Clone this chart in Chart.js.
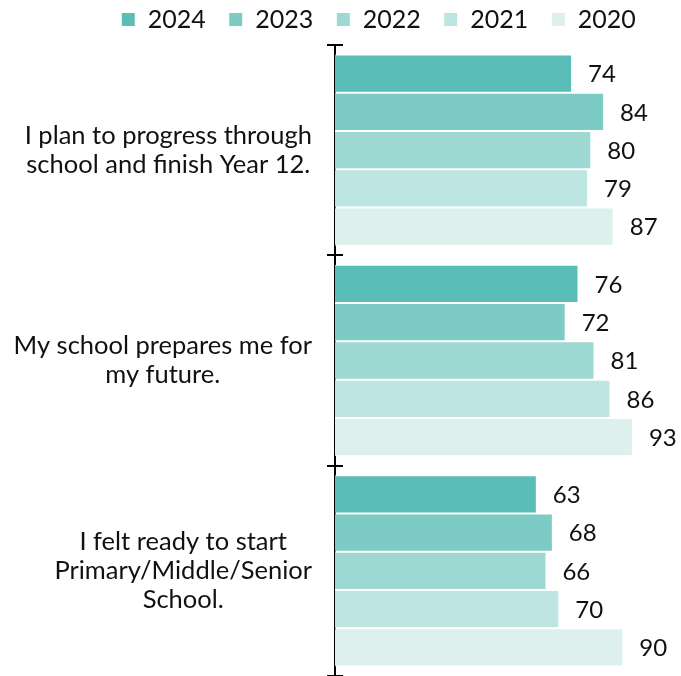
<!DOCTYPE html>
<html>
<head>
<meta charset="utf-8">
<script src="https://cdn.jsdelivr.net/npm/chart.js@4/dist/chart.umd.min.js"></script>
<style>
  html, body { margin: 0; padding: 0; background: #ffffff; }
  #wrap { width: 681px; height: 676px; position: relative; }
</style>
</head>
<body>
<div id="wrap"><canvas id="c"></canvas></div>
<script>
const categories = [
  ["I plan to progress through", "school and finish Year 12."],
  ["My school prepares me for", "my future."],
  ["I felt ready to start", "Primary/Middle/Senior", "School."]
];
const seriesNames = ["2024", "2023", "2022", "2021", "2020"];
const values2024 = [74, 76, 63];
const values2023 = [84, 72, 68];
const values2022 = [80, 81, 66];
const values2021 = [79, 86, 70];
const values2020 = [87, 93, 90];
const seriesColors = ["#5bbdb7", "#7ccbc5", "#9dd8d3", "#bde5e1", "#ddf0ee"];

const allValues = [values2024, values2023, values2022, values2021, values2020];
const FONT = "Lato";

const datasets = seriesNames.map((name, i) => ({
  label: name,
  data: allValues[i],
  backgroundColor: seriesColors[i],
  borderColor: "#ffffff",
  borderWidth: 1,
  borderSkipped: "start",
  categoryPercentage: 0.91,
  barPercentage: 1.0
}));

const valueLabels = {
  id: "valueLabels",
  afterDatasetsDraw(chart) {
    const ctx = chart.ctx;
    ctx.save();
    ctx.font = "24px " + FONT;
    ctx.fillStyle = "#111111";
    ctx.textAlign = "left";
    ctx.textBaseline = "middle";
    chart.data.datasets.forEach((ds, di) => {
      const meta = chart.getDatasetMeta(di);
      meta.data.forEach((el, j) => {
        ctx.fillText(String(ds.data[j]), el.x + 16, el.y + 1);
      });
    });
    ctx.restore();
  }
};

const catLabels = {
  id: "catLabels",
  afterDraw(chart) {
    const ctx = chart.ctx;
    const ys = chart.scales.y;
    ctx.save();
    ctx.font = "25.5px " + FONT;
    ctx.fillStyle = "#111111";
    ctx.textAlign = "center";
    ctx.textBaseline = "middle";
    const rightEdge = ys.right - 23;
    categories.forEach((lines, i) => {
      const cy = ys.getPixelForValue(i);
      const maxW = Math.max(...lines.map(l => ctx.measureText(l).width));
      const cx = rightEdge - maxW / 2;
      lines.forEach((l, j) => {
        ctx.fillText(l, cx, cy + (j - (lines.length - 1) / 2) * 29);
      });
    });
    // tick crosses at category boundaries
    ctx.strokeStyle = "#000000";
    ctx.lineWidth = 2;
    const x = ys.right;
    const n = categories.length;
    for (let k = 0; k <= n; k++) {
      const y = Math.round(ys.top + k * (ys.bottom - ys.top) / n);
      ctx.beginPath();
      ctx.moveTo(x - 8, y);
      ctx.lineTo(x + 8, y);
      ctx.stroke();
    }
    ctx.restore();
  }
};

new Chart(document.getElementById("c"), {
  type: "bar",
  data: { labels: categories.map(c => c.join(" ")), datasets },
  options: {
    indexAxis: "y",
    responsive: true,
    maintainAspectRatio: false,
    animation: false,
    layout: { padding: { top: -16, right: 0, bottom: 0, left: 76 } },
    plugins: {
      legend: {
        position: "top",
        labels: {
          font: { family: FONT, size: 25 },
          color: "#111111",
          boxWidth: 14,
          boxHeight: 14,
          padding: 23
        }
      },
      tooltip: { enabled: false }
    },
    scales: {
      x: {
        display: true,
        position: "top",
        min: 0,
        max: 108,
        grid: { display: false, drawTicks: false },
        border: { display: false },
        ticks: { display: false },
        afterFit(scale) { scale.height = 3; }
      },
      y: {
        type: "category",
        offset: true,
        grid: { display: false },
        border: { display: true, color: "#000000", width: 2 },
        ticks: { display: false },
        afterFit(scale) { scale.width = 259; }
      }
    }
  },
  plugins: [valueLabels, catLabels]
});
</script>
</body>
</html>
